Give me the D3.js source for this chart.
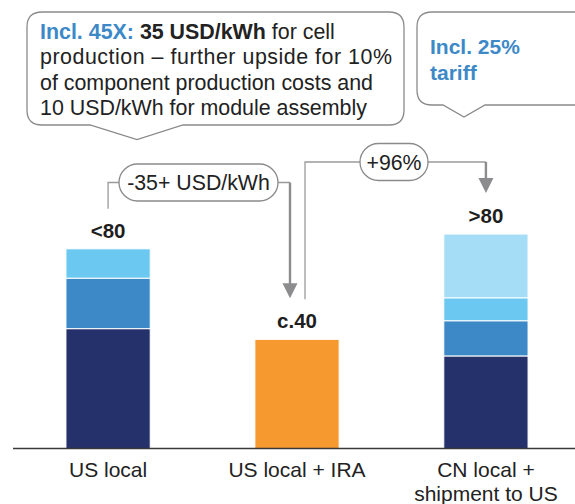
<!DOCTYPE html>
<html>
<head>
<meta charset="utf-8">
<script src="https://cdn.jsdelivr.net/npm/d3@7"></script>
<style>
  body { margin: 0; background: #fff; }
  svg { display: block; font-family: "Liberation Sans", Arial, sans-serif; }
</style>
</head>
<body>
<div id="chart"></div>
<script>
// categories and values (USD/kWh)
const categories = ["US local", "US local + IRA", "CN local +|shipment to US"]
const totalLabels = ["<80", "c.40", ">80"]
const baseCost = [47.0, 0, 36.3]
const midCost = [19.8, 0, 13.8]
const topCost = [11.5, 0, 9.0]
const tariffCost = [0, 0, 25.0]
const iraCost = [0, 42.8, 0]
const deltaLabels = ["-35+ USD/kWh", "+96%"]

const keys = ["base", "mid", "top", "tariff", "ira"]
const colors = { base: "#24316b", mid: "#3d89c8", top: "#6bc8f0", tariff: "#a6ddf6", ira: "#f6992f" }

const width = 575, height = 504
const baseline = 448.5

const rows = categories.map((c, i) => ({
  cat: c,
  base: baseCost[i], mid: midCost[i], top: topCost[i], tariff: tariffCost[i], ira: iraCost[i]
}))
const totals = rows.map(d => d3.sum(keys, k => d[k]))

const svg = d3.select("#chart").append("svg")
  .attr("width", width)
  .attr("height", height)

const x = d3.scaleBand()
  .domain(categories)
  .range([14, 580])
  .paddingInner(0.554)
  .paddingOuter(0.275)

const y = d3.scaleLinear()
  .domain([0, 100])
  .range([baseline, baseline - 255])

// stacked bars
const stacked = d3.stack().keys(keys)(rows)
svg.append("g").selectAll("g")
  .data(stacked)
  .enter().append("g")
  .attr("fill", d => colors[d.key])
  .selectAll("rect")
  .data(d => d.filter(s => s[1] - s[0] > 0))
  .enter().append("rect")
  .attr("x", d => x(d.data.cat))
  .attr("width", x.bandwidth())
  .attr("y", d => y(d[1]))
  .attr("height", d => y(d[0]) - y(d[1]))
  .attr("stroke", "#fff")
  .attr("stroke-width", 1)

// baseline axis
const xAxis = d3.axisBottom(x).tickSize(0).tickFormat("")
svg.append("g")
  .attr("transform", "translate(0," + baseline + ")")
  .call(xAxis)
  .call(g => g.select(".domain")
    .attr("d", "M13,0H576")
    .attr("stroke", "#3a3a3a")
    .attr("stroke-width", 1.6))

// category labels
svg.append("g").selectAll("text")
  .data(categories)
  .enter().append("text")
  .attr("text-anchor", "middle")
  .attr("font-size", "21px")
  .attr("fill", "#222")
  .each(function (d) {
    const t = d3.select(this)
    d.split("|").forEach((line, i) => {
      t.append("tspan")
        .attr("x", x(d) + x.bandwidth() / 2)
        .attr("y", 477 + i * 24)
        .text(line)
    })
  })

// total labels
svg.append("g").selectAll("text")
  .data(categories)
  .enter().append("text")
  .attr("x", d => x(d) + x.bandwidth() / 2)
  .attr("y", (d, i) => y(totals[i]) - 11)
  .attr("text-anchor", "middle")
  .attr("font-size", "20.5px")
  .attr("font-weight", "bold")
  .attr("fill", "#1e1e1e")
  .text((d, i) => totalLabels[i])

// connectors between bars
const cx = i => x(categories[i]) + x.bandwidth() / 2
const lineColor = "#9a9a9a"
const arrowColor = "#8c8c8e"

function connector(fromX, fromY, toX, toY, levelY, pillLabel, pillX0, pillX1) {
  const g = svg.append("g")
  g.append("path")
    .attr("d", "M" + fromX + "," + fromY + "V" + levelY + "H" + toX)
    .attr("fill", "none")
    .attr("stroke", lineColor)
    .attr("stroke-width", 1.3)
  g.append("line")
    .attr("x1", toX).attr("x2", toX)
    .attr("y1", levelY).attr("y2", toY - 12)
    .attr("stroke", arrowColor)
    .attr("stroke-width", 2.4)
  g.append("path")
    .attr("d", "M" + (toX - 7.5) + "," + (toY - 15) + "H" + (toX + 7.5) + "L" + toX + "," + toY + "Z")
    .attr("fill", arrowColor)
  const h = 37
  g.append("rect")
    .attr("x", pillX0).attr("y", levelY - h / 2)
    .attr("width", pillX1 - pillX0).attr("height", h)
    .attr("rx", h / 2)
    .attr("fill", "#fff")
    .attr("stroke", "#8a8a8a")
    .attr("stroke-width", 1.3)
  g.append("text")
    .attr("x", (pillX0 + pillX1) / 2)
    .attr("y", levelY + 7.5)
    .attr("text-anchor", "middle")
    .attr("font-size", "21.3px")
    .attr("fill", "#222")
    .text(pillLabel)
}

connector(cx(0), y(totals[0]) - 40, cx(1) - 7, y(totals[1]) - 41, 182.5, deltaLabels[0], 119, 278)
connector(cx(1) + 8, y(totals[1]) - 40, cx(2), y(totals[2]) - 41, 162, deltaLabels[1], 360, 428)

// callout boxes
function callout(x0, y0, x1, y1, r, tailL, tailApex, tailR, tailY) {
  return "M" + (x0 + r) + "," + y0 +
    "H" + (x1 - r) + "Q" + x1 + "," + y0 + " " + x1 + "," + (y0 + r) +
    "V" + (y1 - r) + "Q" + x1 + "," + y1 + " " + (x1 - r) + "," + y1 +
    "H" + tailR + "L" + tailApex + "," + tailY + "L" + tailL + "," + y1 +
    "H" + (x0 + r) + "Q" + x0 + "," + y1 + " " + x0 + "," + (y1 - r) +
    "V" + (y0 + r) + "Q" + x0 + "," + y0 + " " + (x0 + r) + "," + y0 + "Z"
}

svg.append("path")
  .attr("d", callout(27, 12, 404, 125, 15, 90, 137, 183, 139.5))
  .attr("fill", "#fff")
  .attr("stroke", "#8a8a8a")
  .attr("stroke-width", 1.3)

svg.append("path")
  .attr("d", callout(417, 12, 620, 105, 15, 443, 464, 485, 117))
  .attr("fill", "#fff")
  .attr("stroke", "#8a8a8a")
  .attr("stroke-width", 1.3)

const blue = "#3d89c8"
const note = svg.append("text")
  .attr("font-size", "21.4px")
  .attr("fill", "#222")
const l1 = note.append("tspan").attr("x", 40).attr("y", 38.5)
l1.append("tspan").attr("font-weight", "bold").attr("fill", blue).text("Incl. 45X: ")
l1.append("tspan").attr("font-weight", "bold").text("35 USD/kWh")
l1.append("tspan").text(" for cell")
note.append("tspan").attr("x", 40).attr("y", 64)
  .attr("textLength", 352).attr("lengthAdjust", "spacing")
  .text("production \u2013 further upside for 10%")
note.append("tspan").attr("x", 40).attr("y", 89.5).text("of component production costs and")
note.append("tspan").attr("x", 40).attr("y", 115).text("10 USD/kWh for module assembly")

const note2 = svg.append("text")
  .attr("font-size", "21px")
  .attr("font-weight", "bold")
  .attr("fill", blue)
note2.append("tspan").attr("x", 430).attr("y", 53.5).text("Incl. 25%")
note2.append("tspan").attr("x", 430).attr("y", 80).text("tariff")
</script>
</body>
</html>
